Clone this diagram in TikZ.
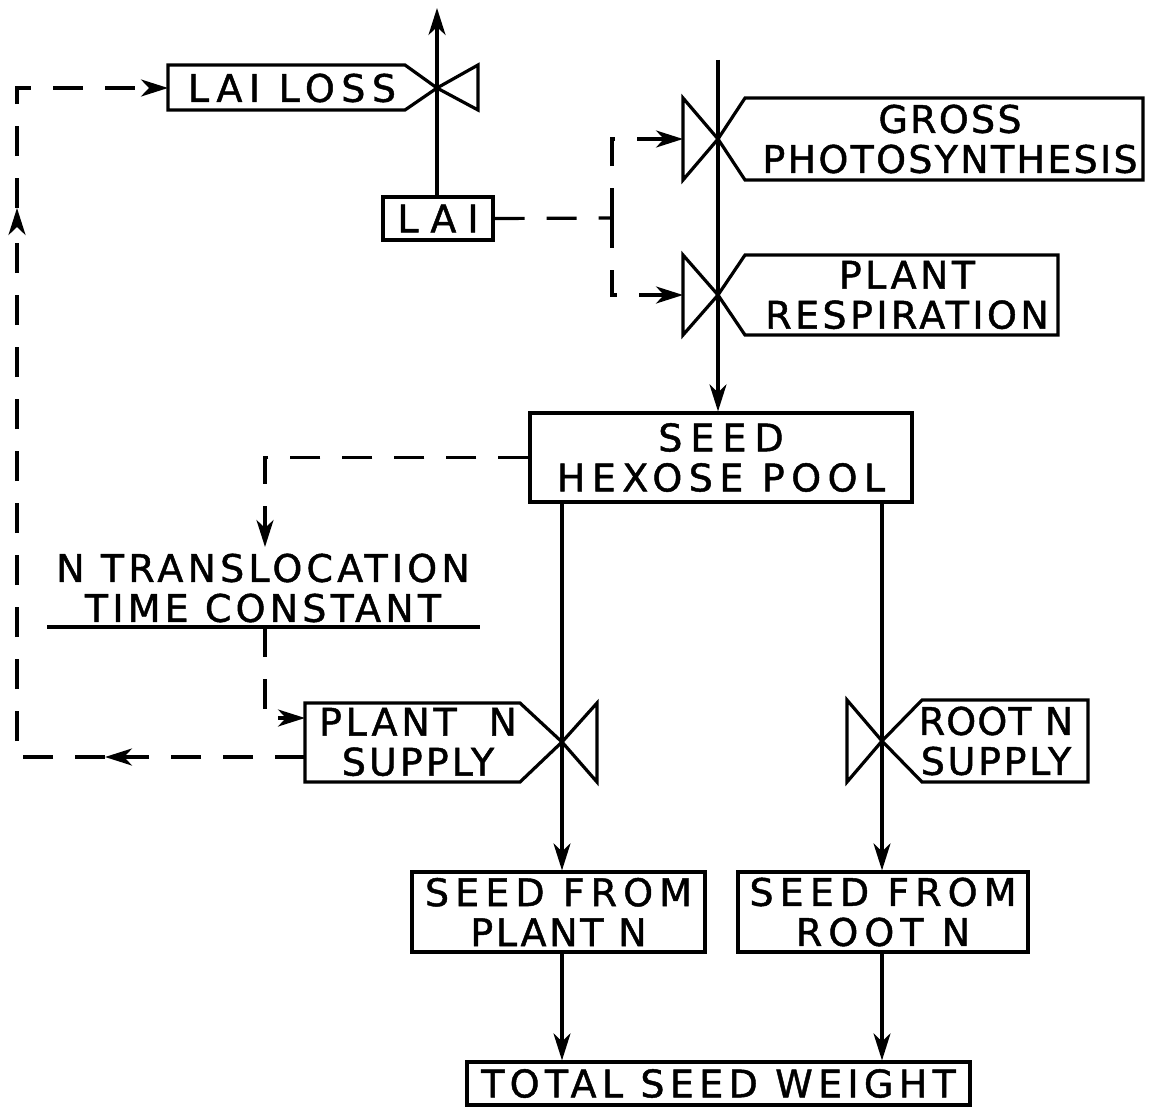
\documentclass[tikz,border=0pt]{standalone}
\usepackage{fontspec}
\newfontfamily\djf[FakeBold=1.2]{DejaVu Sans}
\usetikzlibrary{arrows.meta}
\newcommand\LS[1]{\addfontfeature{LetterSpace=#1}}
\tikzset{
  lw/.style={line width=3.2pt, line join=miter},
  txt/.style={align=center, inner sep=0pt, font={\djf\fontsize{38}{40}\selectfont}},
  boxn/.style={txt, draw, lw},
  tipx/.style={-{Stealth[length=27pt,width=17pt,inset=8pt]}},
  flow/.style={lw, tipx},
  info/.style={lw, dash pattern=on 30pt off 22pt, tipx},
  infoplain/.style={lw, dash pattern=on 30pt off 22pt}
}
\begin{document}
\begin{tikzpicture}[x=1pt,y=-1pt]
\useasboundingbox (0,0) rectangle (1153,1108);
% ---------- valve coordinates
\coordinate (vll) at (437,88);
\coordinate (vgp) at (718,139);
\coordinate (vpr) at (718,295);
\coordinate (vpn) at (562,742);
\coordinate (vrn) at (882,741);
% ---------- LAI loss
\draw[lw] (vll) -- (405,65) -- (168,65) -- (168,110) -- (405,110) -- cycle;
\draw[lw] (vll) -- (478,65) -- (478,110) -- cycle;
\node[txt] (lailoss) at (292,88) {\LS{17}LAI LOSS};
\coordinate (llw) at (168,88);
% ---------- LAI
\node[boxn, minimum width=110pt, minimum height=43pt] (lai) at (438,218.5) {\LS{29}LAI};
\coordinate (topend) at (437,8);
\draw[flow] (lai.north -| vll) -- (topend);
% ---------- gross photosynthesis
\draw[lw] (vgp) -- (745,98) -- (1143,98) -- (1143,180) -- (745,180) -- cycle;
\draw[lw] (vgp) -- (683,98) -- (683,180) -- cycle;
\node[txt] (gp) at (950,139) {\LS{6}GROSS\\\LS{6}PHOTOSYNTHESIS};
\coordinate (gpin) at (683,139);
% ---------- plant respiration
\draw[lw] (vpr) -- (745,255) -- (1058,255) -- (1058,335) -- (745,335) -- cycle;
\draw[lw] (vpr) -- (683,255) -- (683,335) -- cycle;
\node[txt] (pr) at (907,295) {\LS{9}PLANT\\\LS{9}RESPIRATION};
\coordinate (prin) at (683,295);
% ---------- seed hexose pool
\node[boxn, minimum width=382pt, minimum height=89pt] (hex) at (721,457.5)
  {\LS{21}SEED\\\LS{17}HEXOSE POOL};
\coordinate (mtop) at (718,60);
\draw[flow] (mtop) -- (hex.north -| mtop);
% ---------- N translocation
\node[txt] (ntl) at (263,588) {\LS{11}N TRANSLOCATION\\\LS{11}TIME CONSTANT};
\coordinate (ul1) at (47,627);
\coordinate (ul2) at (480,627);
\draw[lw] (ul1) -- (ul2);
% ---------- plant N supply
\draw[lw] (vpn) -- (520,703) -- (305,703) -- (305,782) -- (520,782) -- cycle;
\draw[lw] (vpn) -- (597,703) -- (597,782) -- cycle;
\node[txt] (pns) at (418,742) {\LS{10}PLANT\ \ N\\\LS{8}SUPPLY};
% ---------- root N supply
\draw[lw] (vrn) -- (922,700) -- (1088,700) -- (1088,782) -- (922,782) -- cycle;
\draw[lw] (vrn) -- (847,700) -- (847,782) -- cycle;
\node[txt] (rns) at (996,741) {\LS{3}ROOT N\\\LS{7}SUPPLY};
% ---------- seed from
\node[boxn, minimum width=293pt, minimum height=80pt] (sfp) at (558.5,912) {\LS{16}SEED FROM\\\LS{7}PLANT N};
\node[boxn, minimum width=290pt, minimum height=80pt] (sfr) at (883,912) {\LS{16}SEED FROM\\\LS{16}ROOT\ N};
\node[boxn, minimum width=503pt, minimum height=43pt] (tsw) at (718.5,1083.5) {\LS{14}TOTAL SEED WEIGHT};
% ---------- material flows
\draw[flow] (hex.south -| vpn) -- (sfp.north -| vpn);
\draw[flow] (hex.south -| vrn) -- (sfr.north -| vrn);
\draw[flow] (sfp.south -| vpn) -- (tsw.north -| vpn);
\draw[flow] (sfr.south -| vrn) -- (tsw.north -| vrn);
% ---------- information links
\coordinate (brk) at (612,218);
\draw[infoplain] (lai.east) -- (brk);
\draw[info] (brk) -- (brk |- gpin) -- (gpin);
\draw[info] (brk) -- (brk |- prin) -- (prin);
\coordinate (hx1) at (265,457.5);
\coordinate (nin) at (265,547);
\draw[info] (hex.west) -- (hx1) -- (nin);
\coordinate (ud) at (265,718);
\coordinate (pnsin) at (305,718);
\draw[info] (ul1 -| ud) -- (ud) -- (pnsin);
\coordinate (pnsout) at (305,757);
\coordinate (lm) at (105,757);
\coordinate (lc) at (17,757);
\coordinate (lu) at (17,208);
\coordinate (lt) at (17,88);
\draw[info] (pnsout) -- (lm);
\draw[info] (lm) -- (lc) -- (lu);
\draw[info] (lu) -- (lt) -- (llw);
\end{tikzpicture}
\end{document}
